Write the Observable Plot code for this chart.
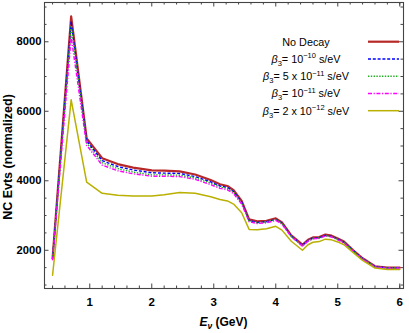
<!DOCTYPE html>
<html><head><meta charset="utf-8">
<script src="https://cdn.jsdelivr.net/npm/d3@7"></script>
<script src="https://cdn.jsdelivr.net/npm/@observablehq/plot@0.6"></script>
<style>body{margin:0;background:#fff} svg{display:block}</style>
</head><body><div id="chart"></div>
<script>
// ---- data ----
const energy   = [0.40,0.70,0.95,1.20,1.45,1.70,2.00,2.20,2.45,2.70,2.95,3.10,3.22,3.32,3.45,3.57,3.70,3.85,4.00,4.10,4.25,4.43,4.52,4.60,4.70,4.80,4.90,5.00,5.10,5.25,5.40,5.60,5.80,6.00];
const noDecay  = [1760,8730,5220,4650,4480,4380,4300,4290,4270,4180,4020,3900,3850,3730,3420,2890,2830,2850,2920,2800,2430,2160,2300,2370,2380,2450,2420,2340,2250,2000,1770,1540,1500,1500];
const beta1e10 = [1750,8590,5150,4580,4410,4310,4230,4220,4210,4120,3970,3850,3810,3690,3390,2860,2800,2820,2890,2780,2410,2140,2280,2350,2360,2430,2400,2320,2230,1990,1760,1530,1495,1495];
const beta5e11 = [1740,8470,5090,4520,4350,4250,4170,4170,4160,4080,3930,3820,3780,3660,3360,2840,2790,2810,2880,2770,2400,2130,2270,2340,2350,2420,2390,2310,2220,1980,1750,1525,1490,1490];
const beta1e11 = [1710,8140,5020,4450,4290,4200,4130,4130,4120,4040,3890,3780,3740,3630,3330,2820,2770,2790,2860,2750,2390,2120,2260,2330,2340,2410,2380,2300,2210,1970,1740,1520,1485,1485];
const beta2e12 = [1280,6330,3960,3640,3580,3560,3560,3600,3660,3640,3540,3460,3420,3330,3080,2600,2590,2620,2690,2580,2260,2000,2160,2230,2250,2320,2300,2240,2160,1930,1710,1490,1450,1445];

const xMajor = [1,2,3,4,5,6];
const xMinor = [0.4,0.6,0.8,1.2,1.4,1.6,1.8,2.2,2.4,2.6,2.8,3.2,3.4,3.6,3.8,4.2,4.4,4.6,4.8,5.2,5.4,5.6,5.8,6.0];
const yMajor = [2000,4000,6000,8000];
const yMinor = [1000,1500,2500,3000,3500,4500,5000,5500,6500,7000,7500,8500,9000];

const series = [
  {values: noDecay,  stroke:"#b82828", width:2.2, dash:null},
  {values: beta1e10, stroke:"#0000ff", width:1.4, dash:"3,1.8"},
  {values: beta5e11, stroke:"#1fae1f", width:1.4, dash:"1.4,1.4"},
  {values: beta1e11, stroke:"#ff00ff", width:1.4, dash:"4,1.6,1.2,1.6"},
  {values: beta2e12, stroke:"#b9b000", width:1.5, dash:null}
];

// ---- layout ----
const W = 409, H = 333, mL = 44, mR = 6, mT = 2, mB = 45;
const pw = W - mL - mR, ph = H - mT - mB;
const font = "'Liberation Sans', Arial, Helvetica, sans-serif";
const axisCol = "#444";

const marks = [];
// inward ticks on all four sides
marks.push(Plot.ruleX(xMajor, {stroke: axisCol, insetTop: ph - 4.5}));
marks.push(Plot.ruleX(xMinor, {stroke: axisCol, insetTop: ph - 2.5}));
marks.push(Plot.ruleX(xMajor, {stroke: axisCol, insetBottom: ph - 4.5}));
marks.push(Plot.ruleX(xMinor, {stroke: axisCol, insetBottom: ph - 2.5}));
marks.push(Plot.ruleY(yMajor, {stroke: axisCol, insetRight: pw - 4.5}));
marks.push(Plot.ruleY(yMinor, {stroke: axisCol, insetRight: pw - 2.5}));
marks.push(Plot.ruleY(yMajor, {stroke: axisCol, insetLeft: pw - 4.5}));
marks.push(Plot.ruleY(yMinor, {stroke: axisCol, insetLeft: pw - 2.5}));

for (const s of series) {
  const rows = energy.map((e, i) => ({E: e, N: s.values[i]}));
  marks.push(Plot.line(rows, {x: "E", y: "N", stroke: s.stroke, strokeWidth: s.width,
    strokeDasharray: s.dash || undefined, strokeLinejoin: "round", strokeLinecap: s.dash ? "butt" : "round"}));
}
marks.push(Plot.frame({stroke: axisCol, strokeWidth: 1.1}));
marks.push(Plot.axisX({ticks: xMajor, tickSize: 0, tickPadding: 9, label: null,
  fontWeight: "bold", fontSize: 11.5, tickFormat: d => String(d)}));
marks.push(Plot.axisY({ticks: yMajor, tickSize: 0, tickPadding: 3, label: null,
  fontWeight: "bold", fontSize: 11.2, tickFormat: d => String(d)}));

const chart = Plot.plot({
  width: W, height: H,
  marginLeft: mL, marginRight: mR, marginTop: mT, marginBottom: mB,
  style: {fontFamily: font, background: "#fff", color: "#000", overflow: "visible"},
  x: {domain: [0.27, 6.06]},
  y: {domain: [900, 9130]},
  marks
});
document.getElementById("chart").appendChild(chart);

const svg = d3.select(chart);
// ---- y label ----
svg.append("text").attr("transform", `translate(9,157) rotate(-90)`)
  .attr("text-anchor", "middle").attr("dominant-baseline", "middle")
  .attr("font-family", font).attr("font-weight", "bold").attr("font-size", 12.5)
  .text("NC Evts (normalized)");

// ---- x label with subscript ----
const xl = svg.append("text").attr("x", mL + pw / 2).attr("y", 326)
  .attr("text-anchor", "middle").attr("font-family", font).attr("font-weight", "bold").attr("font-size", 12);
xl.append("tspan").attr("font-style", "italic").text("E");
xl.append("tspan").attr("font-style", "italic").attr("font-size", 8.5).attr("dy", 3).text("ν");
xl.append("tspan").attr("dy", -3).text(" (GeV)");

// ---- legend inside the frame ----
const legendLabels = [
  [{t:"No Decay"}],
  [{t:"β", i:true},{t:"3", sub:true},{t:"= 10"},{t:"−10", sup:true},{t:" s/eV"}],
  [{t:"β", i:true},{t:"3", sub:true},{t:"= 5 x 10"},{t:"−11", sup:true},{t:" s/eV"}],
  [{t:"β", i:true},{t:"3", sub:true},{t:"= 10"},{t:"−11", sup:true},{t:" s/eV"}],
  [{t:"β", i:true},{t:"3", sub:true},{t:"= 2 x 10"},{t:"−12", sup:true},{t:" s/eV"}]
];
const lg = svg.append("g").attr("font-family", font).attr("font-size", 10.8);
legendLabels.forEach((parts, k) => {
  const cy = 41.7 + k * 17.25;
  const t = lg.append("text").attr("x", 306).attr("y", cy + 4).attr("text-anchor", "middle");
  let shift = 0;
  for (const p of parts) {
    const ts = t.append("tspan").text(p.t);
    let target = 0;
    if (p.sub) { target = 3; ts.attr("font-size", 7.5); }
    if (p.sup) { target = -4.5; ts.attr("font-size", 7.5); }
    if (target !== shift) { ts.attr("dy", target - shift); shift = target; }
    if (p.i) ts.attr("font-style", "italic");
  }
  const s = series[k];
  lg.append("line").attr("x1", 368).attr("x2", 399).attr("y1", cy).attr("y2", cy)
    .attr("stroke", s.stroke).attr("stroke-width", s.width)
    .attr("stroke-dasharray", s.dash);
});
</script></body></html>
